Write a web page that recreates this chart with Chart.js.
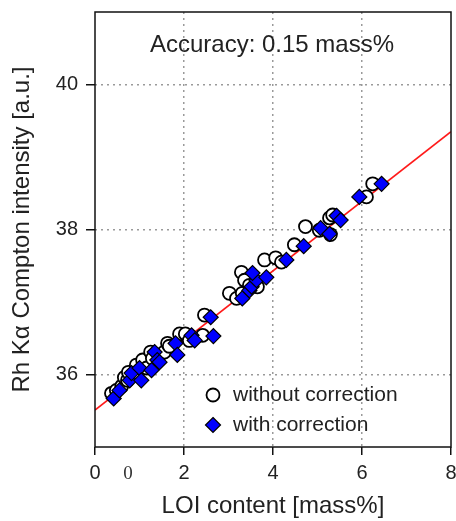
<!DOCTYPE html>
<html>
<head>
<meta charset="utf-8">
<script src="https://cdn.jsdelivr.net/npm/chart.js@4"></script>
<style>
  body { margin: 0; background: #fff; }
  canvas { display: block; }
</style>
</head>
<body>
<canvas id="chart" width="456" height="521"></canvas>
<script>
// LOI content [mass%] vs Rh Ka Compton intensity
const withoutX = [0.37, 0.48, 0.60, 0.66, 0.73, 0.75, 0.89, 0.93, 1.07, 1.16, 1.25, 1.29, 1.45, 1.56, 1.63, 1.67,
                  1.90, 2.03, 2.12, 2.42, 2.46, 3.02, 3.18, 3.31, 3.29, 3.36, 3.47, 3.65, 3.81, 4.06, 4.19, 4.48,
                  4.73, 5.04, 5.27, 5.34, 5.29, 6.10, 6.24];
const withoutY = [35.74, 35.78, 35.84, 35.96, 35.92, 36.03, 36.02, 36.13, 36.20, 36.09, 36.31, 36.22, 36.27, 36.31, 36.43, 36.39,
                  36.56, 36.56, 36.47, 36.54, 36.82, 37.12, 37.05, 37.12, 37.41, 37.30, 37.23, 37.21, 37.58, 37.61, 37.55, 37.79,
                  38.04, 37.99, 38.16, 38.20, 37.93, 38.45, 38.63];
const withX = [0.42, 0.55, 0.78, 0.82, 1.00, 1.04, 1.27, 1.34, 1.40, 1.45, 1.81, 1.85, 2.17, 2.24, 2.60, 2.66,
               3.31, 3.47, 3.52, 3.63, 3.54, 3.85, 4.30, 4.69, 5.07, 5.27, 5.43, 5.52, 5.94, 6.44];
const withY = [35.67, 35.78, 35.92, 36.02, 36.09, 35.92, 36.06, 36.31, 36.20, 36.17, 36.43, 36.27, 36.54, 36.47, 36.79, 36.53,
               37.05, 37.16, 37.21, 37.30, 37.40, 37.34, 37.58, 37.77, 38.02, 37.94, 38.19, 38.13, 38.45, 38.63];
const fitX = [0, 8];
const fitY = [35.51, 39.35];
const xTicks = [0, 2, 4, 6, 8];
const yTicks = [36, 38, 40];
const noteText = 'Accuracy: 0.15 mass%';
const legendLabels = ['without correction', 'with correction'];

const toPoints = (xs, ys) => xs.map((x, i) => ({ x: x, y: ys[i] }));
const FONT = '"Liberation Sans", Arial, sans-serif';

// zero the label overhang so the plot box sits where we want it
function noPad(s) {
  s.paddingLeft = 0; s.paddingRight = 0; s.paddingTop = 0; s.paddingBottom = 0;
}

const framePlugin = {
  id: 'frame',
  afterDatasetsDraw(chart) {
    const { ctx, chartArea: a } = chart;
    ctx.save();
    ctx.strokeStyle = '#111';
    ctx.lineWidth = 1.5;
    ctx.strokeRect(a.left, a.top, a.right - a.left, a.bottom - a.top);

    // note text at top
    ctx.fillStyle = '#222';
    ctx.font = '24px ' + FONT;
    ctx.textAlign = 'center';
    ctx.textBaseline = 'middle';
    ctx.fillText(noteText, 272, 45);

    // legend inside plot area
    ctx.textAlign = 'left';
    ctx.font = '21px ' + FONT;
    const rows = [395, 425];
    ctx.beginPath();
    ctx.arc(213, rows[0], 6.5, 0, Math.PI * 2);
    ctx.fillStyle = '#fff';
    ctx.fill();
    ctx.lineWidth = 1.8;
    ctx.strokeStyle = '#000';
    ctx.stroke();
    ctx.beginPath();
    ctx.moveTo(213, rows[1] - 7.5);
    ctx.lineTo(220.5, rows[1]);
    ctx.lineTo(213, rows[1] + 7.5);
    ctx.lineTo(205.5, rows[1]);
    ctx.closePath();
    ctx.fillStyle = '#0000ff';
    ctx.fill();
    ctx.lineWidth = 1.2;
    ctx.stroke();
    ctx.fillStyle = '#222';
    ctx.fillText(legendLabels[0], 233, rows[0]);
    ctx.fillText(legendLabels[1], 233, rows[1]);

    // stray label under the axis
    ctx.font = '19px "Liberation Serif", serif';
    ctx.fillStyle = '#333';
    ctx.textAlign = 'center';
    ctx.fillText('0', 128, 474);
    ctx.restore();
  }
};

new Chart(document.getElementById('chart'), {
  type: 'scatter',
  data: {
    datasets: [
      {
        label: legendLabels[1],
        data: toPoints(withX, withY),
        pointStyle: 'rectRot',
        pointRadius: 7.5,
        backgroundColor: '#0000ff',
        borderColor: '#000',
        borderWidth: 1.2,
        order: 0
      },
      {
        label: legendLabels[0],
        data: toPoints(withoutX, withoutY),
        pointStyle: 'circle',
        pointRadius: 6.5,
        backgroundColor: '#fff',
        borderColor: '#000',
        borderWidth: 1.8,
        order: 1
      },
      {
        type: 'line',
        label: 'fit',
        data: toPoints(fitX, fitY),
        borderColor: '#ff1a1a',
        borderWidth: 1.6,
        pointRadius: 0,
        fill: false,
        order: 2
      }
    ]
  },
  options: {
    responsive: false,
    animation: false,
    layout: { autoPadding: false, padding: { top: 12, right: 5, left: 0, bottom: 0 } },
    plugins: {
      legend: { display: false },
      tooltip: { enabled: false }
    },
    scales: {
      x: {
        type: 'linear',
        min: 0,
        max: 8,
        afterBuildTicks: s => { s.ticks = xTicks.map(v => ({ value: v })); },
        afterFit: s => { s.height = 74; noPad(s); },
        ticks: { color: '#222', font: { size: 20, family: FONT }, padding: 6 },
        grid: {
          color: c => (c.tick && (c.tick.value === 0 || c.tick.value === 8)) ? 'rgba(0,0,0,0)' : '#9a9a9a',
          lineWidth: 1.5,
          tickLength: 8,
          tickColor: '#111',
          tickBorderDash: [],
          tickWidth: 1.5
        },
        border: { display: false, dash: [2, 4] },
        title: {
          display: true,
          text: 'LOI content [mass%]',
          color: '#222',
          font: { size: 24, family: FONT },
          padding: { top: 8, bottom: 0 }
        }
      },
      y: {
        type: 'linear',
        min: 35,
        max: 41,
        afterBuildTicks: s => { s.ticks = yTicks.map(v => ({ value: v })); },
        afterFit: s => { s.width = 95; noPad(s); },
        ticks: { color: '#222', font: { size: 20, family: FONT }, padding: 8 },
        grid: {
          color: '#9a9a9a',
          lineWidth: 1.5,
          tickLength: 9,
          tickColor: '#111',
          tickBorderDash: [],
          tickWidth: 1.5
        },
        border: { display: false, dash: [2, 4] },
        title: {
          display: true,
          text: 'Rh Kα Compton intensity [a.u.]',
          color: '#222',
          font: { size: 24, family: FONT },
          padding: { top: 8, bottom: 0 }
        }
      }
    }
  },
  plugins: [framePlugin]
});
</script>
</body>
</html>
